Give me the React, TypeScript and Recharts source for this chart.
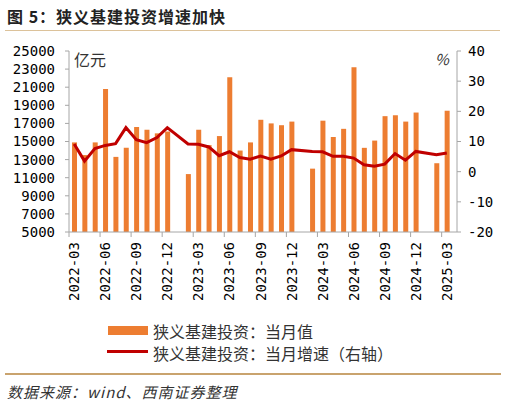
import React from "react";
import { Bar, ComposedChart, Line, XAxis, YAxis } from "recharts";

const months = [
  "2022-03", "2022-04", "2022-05", "2022-06", "2022-07", "2022-08", "2022-09", "2022-10", "2022-11", "2022-12",
  "2023-01", "2023-02", "2023-03", "2023-04", "2023-05", "2023-06", "2023-07", "2023-08", "2023-09", "2023-10", "2023-11", "2023-12",
  "2024-01", "2024-02", "2024-03", "2024-04", "2024-05", "2024-06", "2024-07", "2024-08", "2024-09", "2024-10", "2024-11", "2024-12",
  "2025-01", "2025-02", "2025-03",
];

// 狭义基建投资：当月值（亿元）
const monthlyValue = [
  14900, 13500, 14900, 20800, 13300, 14300, 16600, 16300, 15900, 16100,
  null, 11400, 16300, 14600, 15600, 22100, 14000, 14900, 17400, 17000, 16800, 17200,
  null, 12000, 17300, 15500, 16400, 23200, 14300, 15100, 17800, 17900, 17200, 18200,
  null, 12600, 18400,
];

// 狭义基建投资：当月增速（%）
const monthlyGrowth = [
  9.2, 3.5, 7.7, 8.7, 9.3, 14.6, 10.6, 9.6, 11.3, 14.6,
  null, 9.2, 9.1, 8.2, 5.3, 6.6, 4.7, 4.1, 5.2, 4.1, 5.2, 7.3,
  null, 6.7, 6.6, 5.1, 5.1, 4.5, 2.3, 1.8, 2.5, 6.0, 3.8, 6.7,
  null, 5.6, 6.2,
];

const leftTicks = [5000, 7000, 9000, 11000, 13000, 15000, 17000, 19000, 21000, 23000, 25000];
const rightTicks = [-20, -10, 0, 10, 20, 30, 40];

const data = months.map((m, i) => ({ month: m, value: monthlyValue[i], growth: monthlyGrowth[i] }));

const mono = "'DejaVu Sans Mono', monospace";
const cjk = "'Noto Sans CJK SC', sans-serif";
const axisColor = "#a6a6a6";

function MonthTick(props: any) {
  const { x, y, payload } = props;
  const half = payload && payload.offset ? payload.offset : 5.17;
  return (
    <g>
      <line x1={x - half} y1={y} x2={x - half} y2={y + 5} stroke={axisColor} />
      <text
        x={x + 5}
        y={y + 10}
        transform={`rotate(-90 ${x + 5} ${y + 10})`}
        textAnchor="end"
        fontSize={14}
        fontFamily={mono}
        fill="#000"
      >
        {payload.value}
      </text>
    </g>
  );
}

export default function App() {
  return (
    <div style={{ position: "absolute", left: 0, top: 0, width: 507, height: 404, background: "#fff", fontFamily: cjk }}>
      <div style={{ position: "absolute", left: 7, top: 4, fontSize: 16, fontWeight: "bold", letterSpacing: 1, color: "#222", whiteSpace: "nowrap" }}>
        图 5：狭义基建投资增速加快
      </div>
      <div style={{ position: "absolute", left: 5, top: 30, width: 495, height: 1, background: "#dcc29a" }} />

      <ComposedChart
        width={507}
        height={320}
        data={data}
        margin={{ top: 51, right: 0, bottom: 18, left: 0 }}
        style={{ position: "absolute", left: 0, top: 0 }}
      >
        <XAxis
          dataKey="month"
          interval={2}
          height={70}
          tickLine={false}
          tickSize={0}
          tickMargin={0}
          padding={{ left: 0, right: 5 }}
          axisLine={{ stroke: axisColor }}
          tick={<MonthTick />}
        />
        <YAxis
          yAxisId="left"
          orientation="left"
          width={69}
          domain={[5000, 25000]}
          ticks={leftTicks}
          interval={0}
          tickSize={4}
          tickMargin={10}
          axisLine={{ stroke: axisColor }}
          tickLine={{ stroke: axisColor }}
          tick={{ fontSize: 14, fontFamily: mono, fill: "#000" }}
        />
        <YAxis
          yAxisId="right"
          orientation="right"
          width={50}
          domain={[-20, 40]}
          ticks={rightTicks}
          interval={0}
          tickSize={4}
          tickMargin={7}
          axisLine={{ stroke: axisColor }}
          tickLine={{ stroke: axisColor }}
          tick={{ fontSize: 14, fontFamily: mono, fill: "#000" }}
        />
        <Bar yAxisId="left" dataKey="value" fill="#ed7d31" barSize={5} isAnimationActive={false} />
        <Line
          yAxisId="right"
          dataKey="growth"
          type="linear"
          stroke="#c00000"
          strokeWidth={3}
          dot={false}
          connectNulls
          isAnimationActive={false}
        />
      </ComposedChart>

      <div style={{ position: "absolute", left: 74, top: 47, fontSize: 16, color: "#333" }}>亿元</div>
      <div style={{ position: "absolute", left: 435, top: 48, fontSize: 15, color: "#333", fontStyle: "italic" }}>%</div>

      <div style={{ position: "absolute", left: 108, top: 326, width: 40, height: 9, background: "#ed7d31" }} />
      <div style={{ position: "absolute", left: 153, top: 319, fontSize: 16, color: "#333", whiteSpace: "nowrap" }}>
        狭义基建投资：当月值
      </div>
      <div style={{ position: "absolute", left: 107, top: 350, width: 41, height: 3, background: "#c00000" }} />
      <div style={{ position: "absolute", left: 153, top: 341, fontSize: 16, color: "#333", whiteSpace: "nowrap" }}>
        狭义基建投资：当月增速（右轴）
      </div>

      <div style={{ position: "absolute", left: 5, top: 373, width: 496, height: 2, background: "#c9a36e" }} />
      <div style={{ position: "absolute", left: 7, top: 381, fontSize: 15, letterSpacing: 1, fontStyle: "italic", color: "#333", whiteSpace: "nowrap" }}>
        数据来源：wind、西南证券整理
      </div>
    </div>
  );
}
